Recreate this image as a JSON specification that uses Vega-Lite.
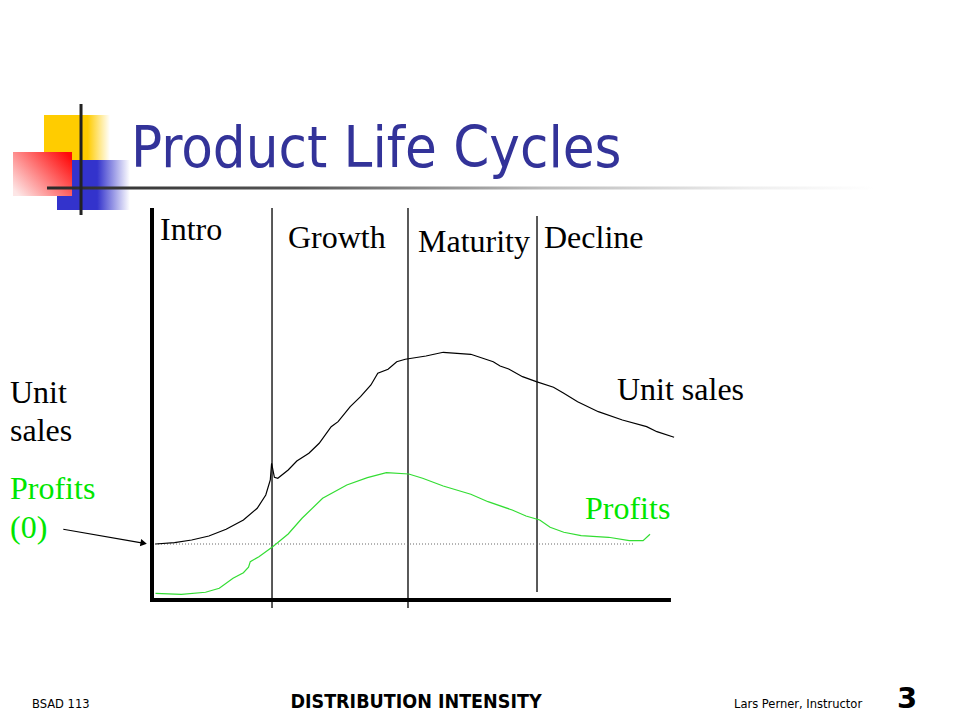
{
  "$schema": "https://vega.github.io/schema/vega-lite/v6.json",
  "width": 960,
  "height": 720,
  "padding": 0,
  "autosize": {"type": "fit", "contains": "padding"},
  "background": "white",
  "config": {"view": {"stroke": null}},
  "encoding": {
    "x": {"field": "t", "type": "quantitative", "scale": {"domain": [-29.2308, 155.3846], "nice": false, "zero": false}, "axis": null},
    "y": {"field": "v", "type": "quantitative", "scale": {"domain": [-30, 150], "nice": false, "zero": false}, "axis": null}
  },
  "layer": [
    {
      "data": {"values": [{"part": "yellow", "t": -20.77, "t2": -8.08, "v": 121.25, "v2": 110}]},
      "mark": {"type": "rect", "fill": {"gradient": "linear", "x1": 0, "y1": 0, "x2": 1, "y2": 0, "stops": [{"offset": 0, "color": "#ffcc00"}, {"offset": 0.66, "color": "#ffcc00"}, {"offset": 1, "color": "#ffffff"}]}},
      "encoding": {"x2": {"field": "t2"}, "y2": {"field": "v2"}}
    },
    {
      "data": {"values": [{"part": "blue", "t": -18.27, "t2": -4.23, "v": 110, "v2": 97.5}]},
      "mark": {"type": "rect", "fill": {"gradient": "linear", "x1": 0, "y1": 0, "x2": 1, "y2": 0, "stops": [{"offset": 0, "color": "#3333cc"}, {"offset": 0.55, "color": "#3333cc"}, {"offset": 1, "color": "#ffffff"}]}},
      "encoding": {"x2": {"field": "t2"}, "y2": {"field": "v2"}}
    },
    {
      "data": {"values": [{"part": "red", "t": -26.73, "t2": -15.38, "v": 112, "v2": 101}]},
      "mark": {"type": "rect", "fill": {"gradient": "linear", "x1": 0, "y1": 0.85, "x2": 1, "y2": 0.15, "stops": [{"offset": 0, "color": "#fde6e6"}, {"offset": 1, "color": "#ff0a0a"}]}},
      "encoding": {"x2": {"field": "t2"}, "y2": {"field": "v2"}}
    },
    {
      "data": {"values": [{"part": "bar", "t": -20.19, "t2": 139.0, "v": 103.375, "v2": 102.625}]},
      "mark": {"type": "rect", "fill": {"gradient": "linear", "x1": 0, "y1": 0, "x2": 1, "y2": 0, "stops": [{"offset": 0, "color": "#2a2a2a"}, {"offset": 0.3, "color": "#555555"}, {"offset": 0.6, "color": "#bbbbbb"}, {"offset": 0.85, "color": "#eeeeee"}, {"offset": 1, "color": "#ffffff"}]}},
      "encoding": {"x2": {"field": "t2"}, "y2": {"field": "v2"}}
    },
    {
      "data": {"values": [{"part": "logo line", "t": -13.65, "t2": -13.65, "v": 124, "v2": 96.25}]},
      "mark": {"type": "rule", "stroke": "#222222", "strokeWidth": 3},
      "encoding": {"x2": {"field": "t2"}, "y2": {"field": "v2"}}
    },
    {
      "data": {"values": [
        {"name": "Intro/Growth", "t": 23.08, "v": 98, "t2": 23.08, "v2": -2},
        {"name": "Growth/Maturity", "t": 49.23, "v": 98, "t2": 49.23, "v2": -2},
        {"name": "Maturity/Decline", "t": 74.04, "v": 96, "t2": 74.04, "v2": 2}
      ]},
      "mark": {"type": "rule", "stroke": "#000000", "strokeWidth": 1.3},
      "encoding": {"x2": {"field": "t2"}, "y2": {"field": "v2"}}
    },
    {
      "data": {"values": [{"name": "zero profit", "t": 0.58, "v": 14, "t2": 92.5, "v2": 14}]},
      "mark": {"type": "rule", "stroke": "#666666", "strokeWidth": 1, "strokeDash": [1, 2]},
      "encoding": {"x2": {"field": "t2"}, "y2": {"field": "v2"}}
    },
    {
      "data": {"values": [
        {"name": "y axis", "t": 0, "v": 98, "t2": 0, "v2": -0.5},
        {"name": "x axis", "t": -0.38, "v": 0, "t2": 99.8, "v2": 0}
      ]},
      "mark": {"type": "rule", "stroke": "#000000", "strokeWidth": 4},
      "encoding": {"x2": {"field": "t2"}, "y2": {"field": "v2"}}
    },
    {
      "data": {"values": [{"name": "arrow", "t": -17.06, "v": 17.68, "t2": -2.0, "v2": 14.3}]},
      "mark": {"type": "rule", "stroke": "#000000", "strokeWidth": 1.2},
      "encoding": {"x2": {"field": "t2"}, "y2": {"field": "v2"}}
    },
    {
      "data": {"values": [{"name": "arrowhead", "t": -1.6, "v": 14.2}]},
      "mark": {"type": "point", "shape": "triangle-right", "filled": true, "fill": "#000000", "size": 55, "angle": 10, "opacity": 1, "strokeWidth": 0}
    },
    {
      "data": {"values": [
        {"i": 1, "t": 0.67, "v": 14.0}, {"i": 2, "t": 4.33, "v": 14.33}, {"i": 3, "t": 7.63, "v": 15.0},
        {"i": 4, "t": 10.94, "v": 16.0}, {"i": 5, "t": 14.25, "v": 17.68}, {"i": 6, "t": 17.58, "v": 20.0},
        {"i": 7, "t": 20.23, "v": 22.93}, {"i": 8, "t": 21.88, "v": 26.25}, {"i": 9, "t": 22.75, "v": 30.0},
        {"i": 10, "t": 23.0, "v": 34.18}, {"i": 11, "t": 23.54, "v": 30.68}, {"i": 12, "t": 24.19, "v": 30.43},
        {"i": 13, "t": 26.19, "v": 32.5}, {"i": 14, "t": 27.85, "v": 34.75}, {"i": 15, "t": 30.17, "v": 36.68},
        {"i": 16, "t": 32.15, "v": 39.18}, {"i": 17, "t": 34.46, "v": 43.33}, {"i": 18, "t": 35.79, "v": 44.58},
        {"i": 19, "t": 38.12, "v": 48.33}, {"i": 20, "t": 40.1, "v": 50.83}, {"i": 21, "t": 42.1, "v": 53.75},
        {"i": 22, "t": 43.42, "v": 56.68}, {"i": 23, "t": 45.4, "v": 57.68}, {"i": 24, "t": 47.06, "v": 59.58},
        {"i": 25, "t": 48.71, "v": 60.18}, {"i": 26, "t": 52.69, "v": 61.0}, {"i": 27, "t": 56.0, "v": 61.93},
        {"i": 28, "t": 61.31, "v": 61.43}, {"i": 29, "t": 65.62, "v": 59.58}, {"i": 30, "t": 66.94, "v": 58.5},
        {"i": 31, "t": 68.6, "v": 57.75}, {"i": 32, "t": 71.25, "v": 55.83}, {"i": 33, "t": 73.9, "v": 54.58},
        {"i": 34, "t": 77.21, "v": 53.18}, {"i": 35, "t": 79.19, "v": 51.68}, {"i": 36, "t": 81.85, "v": 49.58},
        {"i": 37, "t": 85.83, "v": 47.08}, {"i": 38, "t": 90.46, "v": 45.0}, {"i": 39, "t": 95.12, "v": 43.33},
        {"i": 40, "t": 97.1, "v": 42.08}, {"i": 41, "t": 100.4, "v": 40.68}
      ]},
      "mark": {"type": "line", "stroke": "#000000", "strokeWidth": 1.2, "interpolate": "linear"},
      "encoding": {"order": {"field": "i", "type": "quantitative"}}
    },
    {
      "data": {"values": [
        {"i": 1, "t": 0.67, "v": 1.68}, {"i": 2, "t": 5.65, "v": 1.43}, {"i": 3, "t": 10.29, "v": 1.93},
        {"i": 4, "t": 12.94, "v": 2.93}, {"i": 5, "t": 15.58, "v": 5.43}, {"i": 6, "t": 17.58, "v": 6.83},
        {"i": 7, "t": 18.56, "v": 8.18}, {"i": 8, "t": 18.9, "v": 9.58}, {"i": 9, "t": 20.56, "v": 10.83},
        {"i": 10, "t": 23.21, "v": 13.33}, {"i": 11, "t": 26.19, "v": 16.5}, {"i": 12, "t": 28.85, "v": 20.43},
        {"i": 13, "t": 32.81, "v": 25.43}, {"i": 14, "t": 37.46, "v": 28.75}, {"i": 15, "t": 41.42, "v": 30.58},
        {"i": 16, "t": 45.08, "v": 31.83}, {"i": 17, "t": 49.38, "v": 31.5}, {"i": 18, "t": 52.04, "v": 30.43},
        {"i": 19, "t": 56.0, "v": 28.5}, {"i": 20, "t": 61.31, "v": 26.43}, {"i": 21, "t": 64.62, "v": 24.58},
        {"i": 22, "t": 69.27, "v": 22.5}, {"i": 23, "t": 71.92, "v": 21.0}, {"i": 24, "t": 74.56, "v": 20.0},
        {"i": 25, "t": 76.56, "v": 18.18}, {"i": 26, "t": 79.19, "v": 16.93}, {"i": 27, "t": 82.52, "v": 16.08},
        {"i": 28, "t": 87.81, "v": 15.68}, {"i": 29, "t": 91.79, "v": 14.83}, {"i": 30, "t": 94.44, "v": 14.83},
        {"i": 31, "t": 95.77, "v": 16.43}
      ]},
      "mark": {"type": "line", "stroke": "#33dd33", "strokeWidth": 1.2, "interpolate": "linear"},
      "encoding": {"order": {"field": "i", "type": "quantitative"}}
    },
    {
      "data": {"values": [{"label": "Product Life Cycles", "t": -4.04, "v": 108.25}]},
      "mark": {"type": "text", "font": "DejaVu Sans Condensed", "fontSize": 57.5, "fill": "#333399", "align": "left", "baseline": "alphabetic"},
      "encoding": {"text": {"field": "label"}}
    },
    {
      "data": {"values": [
        {"label": "Intro", "t": 1.54, "v": 90},
        {"label": "Growth", "t": 26.15, "v": 88},
        {"label": "Maturity", "t": 51.15, "v": 87},
        {"label": "Decline", "t": 75.38, "v": 88},
        {"label": "Unit sales", "t": 89.42, "v": 50},
        {"label": "Unit", "t": -27.31, "v": 49.25},
        {"label": "sales", "t": -27.31, "v": 39.75}
      ]},
      "mark": {"type": "text", "font": "Liberation Serif", "fontSize": 32, "fill": "#000000", "align": "left", "baseline": "alphabetic"},
      "encoding": {"text": {"field": "label"}}
    },
    {
      "data": {"values": [
        {"label": "Profits", "t": -27.31, "v": 25.25},
        {"label": "(0)", "t": -27.31, "v": 15.5},
        {"label": "Profits", "t": 83.27, "v": 20.25}
      ]},
      "mark": {"type": "text", "font": "Liberation Serif", "fontSize": 32, "fill": "#00e600", "align": "left", "baseline": "alphabetic"},
      "encoding": {"text": {"field": "label"}}
    },
    {
      "data": {"values": [
        {"label": "BSAD 113", "t": -23.08, "v": -27},
        {"label": "Lars Perner,  Instructor", "t": 111.92, "v": -27}
      ]},
      "mark": {"type": "text", "font": "DejaVu Sans", "fontSize": 11.5, "fill": "#000000", "align": "left", "baseline": "alphabetic"},
      "encoding": {"text": {"field": "label"}}
    },
    {
      "data": {"values": [{"label": "DISTRIBUTION INTENSITY", "t": 50.77, "v": -27}]},
      "mark": {"type": "text", "font": "DejaVu Sans Condensed", "fontWeight": "bold", "fontSize": 19.5, "fill": "#000000", "align": "center", "baseline": "alphabetic"},
      "encoding": {"text": {"field": "label"}}
    },
    {
      "data": {"values": [{"label": "3", "t": 143.27, "v": -27}]},
      "mark": {"type": "text", "font": "DejaVu Sans", "fontWeight": "bold", "fontSize": 29, "fill": "#000000", "align": "left", "baseline": "alphabetic"},
      "encoding": {"text": {"field": "label"}}
    }
  ]
}
